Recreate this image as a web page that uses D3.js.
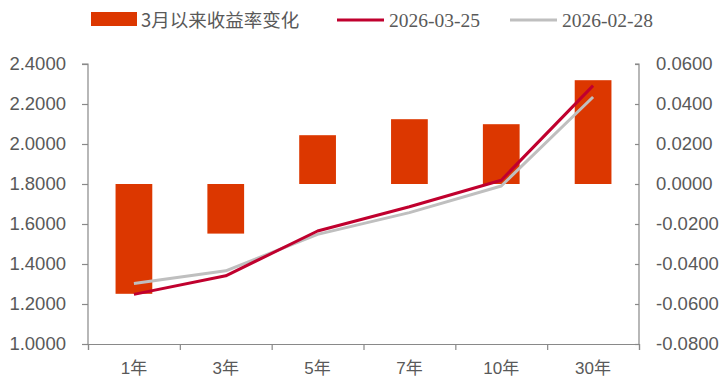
<!DOCTYPE html>
<html>
<head>
<meta charset="utf-8">
<script src="https://cdn.jsdelivr.net/npm/d3@7"></script>
<style>
  body { margin: 0; background: #fff; }
</style>
</head>
<body>
<div id="chart"></div>
<script>
const categories = ["1年", "3年", "5年", "7年", "10年", "30年"];
const change = [-0.0549, -0.0248, 0.0244, 0.0324, 0.0299, 0.0519];
const yield0325 = [1.248, 1.341, 1.565, 1.686, 1.819, 2.292];
const yield0228 = [1.303, 1.366, 1.548, 1.657, 1.790, 2.235];
const leftTicks = [1.0, 1.2, 1.4, 1.6, 1.8, 2.0, 2.2, 2.4];
const rightTicks = [-0.08, -0.06, -0.04, -0.02, 0, 0.02, 0.04, 0.06];
const legendNames = ["3月以来收益率变化", "2026-03-25", "2026-02-28"];

let width = 728, height = 387;
let margin = {top: 64, right: 89, bottom: 43, left: 88};
const axisColor = "#898989";
const textColor = "#595959";
const barColor = "#DC3700";
const redColor = "#C0002E";
const grayColor = "#BFBFBF";
// hyphen minus like the original, not the unicode minus d3 uses
const fmt = d => d3.format(".4f")(d).replace("−", "-");

const svg = d3.select("#chart").append("svg")
  .attr("width", width)
  .attr("height", height);

const x = d3.scaleBand()
  .domain(categories)
  .range([margin.left, width - margin.right])
  .paddingInner(0.6)
  .paddingOuter(0.3);

const yL = d3.scaleLinear().domain([1.0, 2.4]).range([height - margin.bottom, margin.top]);
const yR = d3.scaleLinear().domain([-0.08, 0.06]).range([height - margin.bottom, margin.top]);

// bars
svg.append("g").selectAll("rect")
  .data(categories)
  .join("rect")
  .attr("x", d => x(d))
  .attr("width", x.bandwidth())
  .attr("y", (d, i) => Math.min(yR(0), yR(change[i])))
  .attr("height", (d, i) => Math.abs(yR(change[i]) - yR(0)))
  .attr("fill", barColor);

// axes
const leftAxis = svg.append("g")
  .attr("transform", `translate(${margin.left},0)`)
  .call(d3.axisLeft(yL).tickValues(leftTicks).tickFormat(fmt).tickSize(6).tickPadding(16));
const rightAxis = svg.append("g")
  .attr("transform", `translate(${width - margin.right},0)`)
  .call(d3.axisRight(yR).tickValues(rightTicks).tickFormat(fmt).tickSize(-4).tickPadding(17));

const xBand = d3.scalePoint().domain(d3.range(categories.length + 1)).range([margin.left, width - margin.right]);
const bottomAxis = svg.append("g")
  .attr("transform", `translate(0,${height - margin.bottom})`)
  .call(d3.axisBottom(xBand).tickSize(6).tickFormat(""));
svg.append("g")
  .selectAll("text")
  .data(categories)
  .join("text")
  .attr("x", d => x(d) + x.bandwidth() / 2)
  .attr("y", height - margin.bottom + 30)
  .attr("text-anchor", "middle")
  .attr("font-family", "Liberation Sans, Arial, Noto Sans CJK SC, sans-serif")
  .attr("font-size", "17px")
  .attr("fill", textColor)
  .text(d => d);

[leftAxis, rightAxis, bottomAxis].forEach(g => {
  g.selectAll(".domain, line").attr("stroke", axisColor).attr("stroke-width", 1.2);
  g.selectAll("text")
    .attr("font-family", "Liberation Sans, Arial, sans-serif")
    .attr("font-size", "18.5px")
    .attr("fill", textColor);
});
leftAxis.select(".domain").attr("d", `M-6,${yL(2.4)}H0V${yL(1.0)}`);
rightAxis.select(".domain").attr("d", `M-4,${yR(0.06)}H0V${yR(-0.08)}`);

// lines
const cx = d => x(d) + x.bandwidth() / 2;
const line = vals => d3.line()
  .x((d, i) => cx(categories[i]))
  .y((d, i) => yL(vals[i]))(vals);

svg.append("path")
  .attr("d", line(yield0228))
  .attr("fill", "none")
  .attr("stroke", grayColor)
  .attr("stroke-width", 3)
  .attr("stroke-linejoin", "round");
svg.append("path")
  .attr("d", line(yield0325))
  .attr("fill", "none")
  .attr("stroke", redColor)
  .attr("stroke-width", 3)
  .attr("stroke-linejoin", "round");

// legend
const legend = svg.append("g");
legend.append("rect").attr("x", 91).attr("y", 12).attr("width", 46).attr("height", 14).attr("fill", barColor);
legend.append("text").attr("x", 141).attr("y", 27)
  .attr("font-family", "Noto Sans CJK SC, sans-serif")
  .attr("font-size", "18.5px")
  .attr("fill", textColor)
  .text(legendNames[0]);
legend.append("line").attr("x1", 337).attr("x2", 384).attr("y1", 20).attr("y2", 20)
  .attr("stroke", redColor).attr("stroke-width", 3);
legend.append("text").attr("x", 389).attr("y", 27)
  .attr("font-family", "Liberation Serif, Times New Roman, serif")
  .attr("font-size", "19.5px")
  .attr("fill", textColor)
  .text(legendNames[1]);
legend.append("line").attr("x1", 510).attr("x2", 557).attr("y1", 20).attr("y2", 20)
  .attr("stroke", grayColor).attr("stroke-width", 3);
legend.append("text").attr("x", 562).attr("y", 27)
  .attr("font-family", "Liberation Serif, Times New Roman, serif")
  .attr("font-size", "19.5px")
  .attr("fill", textColor)
  .text(legendNames[2]);
</script>
</body>
</html>
